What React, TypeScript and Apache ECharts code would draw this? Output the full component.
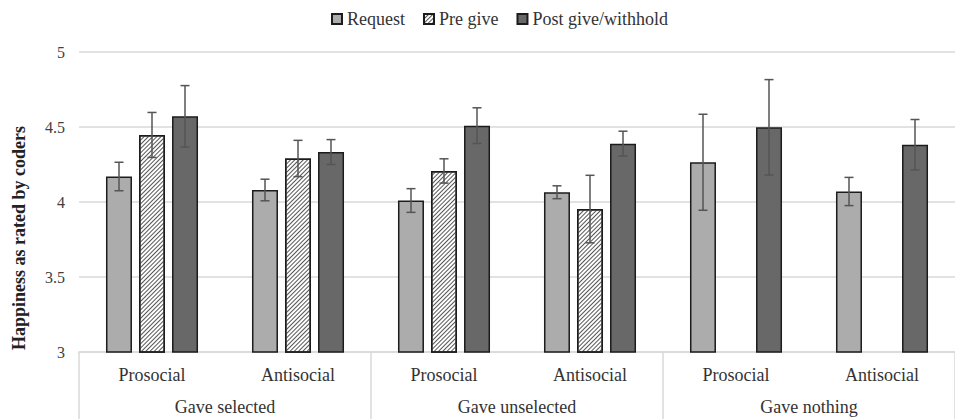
import React, { useEffect, useRef } from "react";
import * as echarts from "echarts";

const categories = ["Prosocial", "Antisocial", "Prosocial", "Antisocial", "Prosocial", "Antisocial"];
const groups = ["Gave selected", "Gave unselected", "Gave nothing"];
const seriesNames = ["Request", "Pre give", "Post give/withhold"];

const requestMean = [4.17, 4.08, 4.01, 4.065, 4.265, 4.07];
const requestErr = [0.095, 0.072, 0.079, 0.043, 0.32, 0.094];
const preMean: (number | null)[] = [4.447, 4.29, 4.207, 3.953, null, null];
const preErr: (number | null)[] = [0.15, 0.121, 0.081, 0.225, null, null];
const postMean = [4.571, 4.333, 4.509, 4.389, 4.498, 4.382];
const postErr = [0.205, 0.083, 0.119, 0.083, 0.318, 0.168];

const yTicks = [3, 3.5, 4, 4.5, 5];

const FONT = "Liberation Serif";

function errData(means: (number | null)[], errs: (number | null)[]) {
  const out: any[] = [];
  means.forEach((m, i) => {
    const e = errs[i];
    if (m != null && e != null) out.push([i, m - e, m + e]);
  });
  return out;
}

function errSeries(name: string, means: (number | null)[], errs: (number | null)[], offset: number) {
  return {
    type: "custom",
    name: name + "-err",
    silent: true,
    z: 5,
    data: errData(means, errs),
    renderItem: (params: any, api: any) => {
      const x = api.value(0);
      const lo = api.coord([x, api.value(1)]);
      const hi = api.coord([x, api.value(2)]);
      const cx = lo[0] + offset;
      const cap = 4.5;
      const style = { stroke: "#555555", lineWidth: 1.5 };
      return {
        type: "group",
        children: [
          { type: "line", shape: { x1: cx, y1: lo[1], x2: cx, y2: hi[1] }, style },
          { type: "line", shape: { x1: cx - cap, y1: lo[1], x2: cx + cap, y2: lo[1] }, style },
          { type: "line", shape: { x1: cx - cap, y1: hi[1], x2: cx + cap, y2: hi[1] }, style },
        ],
      };
    },
  };
}

export default function App() {
  const ref = useRef<HTMLDivElement>(null);
  useEffect(() => {
    if (!ref.current) return;
    const chart = echarts.init(ref.current, undefined, { renderer: "svg" });
    const border = { borderColor: "#1c1c1c", borderWidth: 1.5 };
    chart.setOption({
      animation: false,
      backgroundColor: "#ffffff",
      textStyle: { fontFamily: FONT },
      legend: {
        data: seriesNames,
        left: 326,
        top: 5,
        itemWidth: 10,
        itemHeight: 10,
        itemGap: 18,
        icon: "rect",
        textStyle: { fontFamily: FONT, fontSize: 18, color: "#333333" },
      },
      grid: { left: 79, right: -12, top: 52, bottom: 67, containLabel: false },
      xAxis: [
        {
          type: "category",
          data: categories,
          position: "bottom",
          axisLine: { show: true, lineStyle: { color: "#d9d9d9", width: 1.5 } },
          axisTick: { show: false },
          axisLabel: { fontFamily: FONT, fontSize: 18, color: "#333333", margin: 14, interval: 0 },
        },
        {
          type: "category",
          data: groups,
          position: "bottom",
          axisLine: { show: false },
          axisTick: { show: true, length: 70, interval: 0, lineStyle: { color: "#d9d9d9", width: 1.5 } },
          axisLabel: { fontFamily: FONT, fontSize: 18, color: "#333333", margin: 46, interval: 0 },
        },
      ],
      yAxis: {
        type: "value",
        min: yTicks[0],
        max: yTicks[yTicks.length - 1],
        interval: 0.5,
        axisLine: { show: false },
        axisTick: { show: false },
        splitLine: { lineStyle: { color: "#d9d9d9", width: 1.5 } },
        axisLabel: {
          fontFamily: FONT,
          fontSize: 16,
          color: "#404040",
          margin: 14,
          formatter: (v: number) => String(v),
        },
      },
      graphic: [
        {
          type: "text",
          x: 19,
          y: 238,
          rotation: Math.PI / 2,
          style: {
            text: "Happiness as rated by coders",
            fontFamily: FONT,
            fontSize: 18,
            fontWeight: "bold",
            fill: "#222222",
            textAlign: "center",
            textVerticalAlign: "middle",
          },
        },
      ],
      series: [
        {
          type: "bar",
          name: seriesNames[0],
          data: requestMean,
          barWidth: 26,
          barGap: "27%",
          itemStyle: { color: "#acacac", ...border },
        },
        {
          type: "bar",
          name: seriesNames[1],
          data: preMean,
          barWidth: 26,
          barGap: "27%",
          itemStyle: {
            color: "#ffffff",
            ...border,
            decal: {
              symbol: "rect",
              symbolSize: 1,
              color: "#555555",
              backgroundColor: "#ffffff",
              dashArrayX: [1, 0],
              dashArrayY: [1, 1.6],
              rotation: -Math.PI / 4,
            },
          },
        },
        {
          type: "bar",
          name: seriesNames[2],
          data: postMean,
          barWidth: 26,
          barGap: "27%",
          itemStyle: { color: "#686868", ...border },
        },
        errSeries(seriesNames[0], requestMean, requestErr, -33),
        errSeries(seriesNames[1], preMean, preErr, 0),
        errSeries(seriesNames[2], postMean, postErr, 33),
      ],
    });
    return () => chart.dispose();
  }, []);
  return (
    <div
      ref={ref}
      style={{ position: "fixed", left: 0, top: 0, width: 955, height: 419 }}
    />
  );
}
